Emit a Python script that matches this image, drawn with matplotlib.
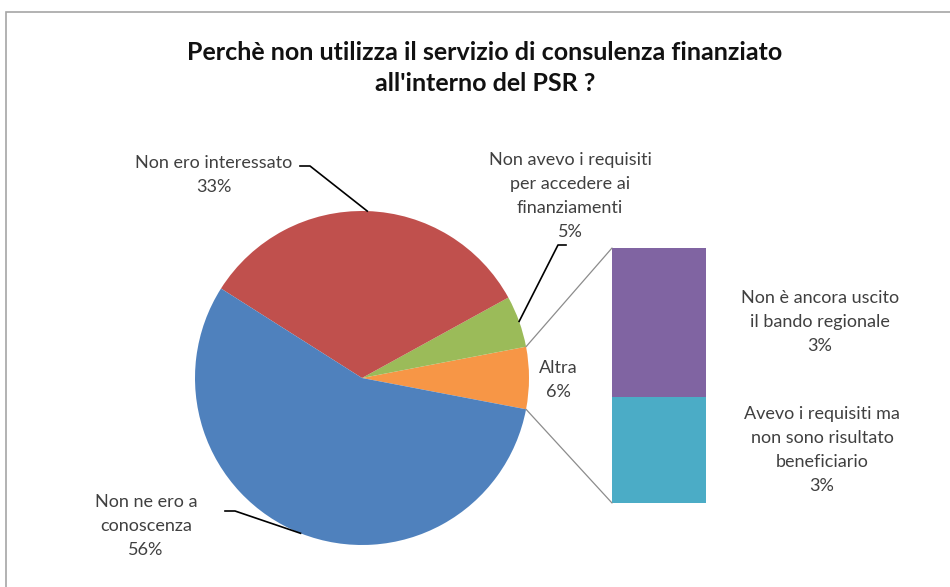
import numpy as np
import matplotlib
matplotlib.use("Agg")
import matplotlib.pyplot as plt
from matplotlib.patches import ConnectionPatch, Rectangle

plt.rcParams['font.family'] = ['Lato', 'DejaVu Sans']

# pie data (counterclockwise starting from "Altra")
pie_labels = ["Altra", "Non avevo i requisiti\nper accedere ai\nfinanziamenti",
              "Non ero interessato", "Non ne ero a\nconoscenza"]
pie_values = [6, 5, 33, 56]
pie_colors = ["#F79646", "#9BBB59", "#C0504D", "#4F81BD"]

# breakdown of "Altra"
bar_labels = ["Avevo i requisiti ma\nnon sono risultato\nbeneficiario",
              "Non è ancora uscito\nil bando regionale"]
bar_values = [2.5, 3.5]
bar_pct = ["3%", "3%"]
bar_colors = ["#4BACC6", "#8064A2"]

title = "Perchè non utilizza il servizio di consulenza finanziato\nall'interno del PSR ?"

W, H = 950, 587
fig = plt.figure(figsize=(W / 100, H / 100), dpi=100)

def fx(px):
    return px / W

def fy(py):
    return 1 - py / H

# border
fig.patches.append(Rectangle((fx(6), fy(600)), 1.1, fy(12) - fy(600), transform=fig.transFigure,
                             fill=False, edgecolor="#A6A6A6", linewidth=1.2))

fig.text(fx(485), fy(68), title, ha="center", va="center", fontsize=18, fontweight="bold",
         linespacing=1.45, color="#111111")

# pie
cx, cy, r = 362, 378, 167
ax = fig.add_axes([fx(cx - r), fy(cy + r), 2 * r / W, 2 * r / H])
start = -pie_values[0] / 100 * 360 / 2
wedges, _ = ax.pie(pie_values, colors=pie_colors, startangle=start, counterclock=True, radius=1)
ax.set_xlim(-1, 1)
ax.set_ylim(-1, 1)
ax.axis("off")

txt_kw = dict(ha="center", va="center", fontsize=13, color="#404040", linespacing=1.6)

# labels with leaders
def mid(w):
    a = np.deg2rad((w.theta1 + w.theta2) / 2)
    return np.cos(a), np.sin(a)

def to_ax(px, py):
    return (px - cx) / r, (cy - py) / r

fig.text(fx(558), fy(380), f"{pie_labels[0]}\n{pie_values[0]}%", **txt_kw)
fig.text(fx(570), fy(196), f"{pie_labels[1]}\n{pie_values[1]}%", **txt_kw)
fig.text(fx(214), fy(175), f"{pie_labels[2]}\n{pie_values[2]}%", **txt_kw)
fig.text(fx(146), fy(526), f"{pie_labels[3]}\n{pie_values[3]}%", **txt_kw)

leaders = {1: [(566, 245), (558, 245)], 2: [(300, 166), (310, 166)], 3: [(225, 511), (235, 511)]}
for i, pts in leaders.items():
    mx, my = mid(wedges[i])
    xs = [to_ax(*p)[0] for p in pts] + [mx]
    ys = [to_ax(*p)[1] for p in pts] + [my]
    ax.plot(xs, ys, color="black", linewidth=1.2, clip_on=False)

# bar of pie
bx0, bx1, by0, by1 = 612, 706, 248, 503
bax = fig.add_axes([fx(bx0), fy(by1), (bx1 - bx0) / W, (by1 - by0) / H])
bottom = 0
for v, c in zip(bar_values, bar_colors):
    bax.bar(0, v, width=1, bottom=bottom, color=c)
    bottom += v
bax.set_xlim(-0.5, 0.5)
bax.set_ylim(0, sum(bar_values))
bax.axis("off")

fig.text(fx(820), fy(322), f"{bar_labels[1]}\n{bar_pct[1]}", **txt_kw)
fig.text(fx(822), fy(450), f"{bar_labels[0]}\n{bar_pct[0]}", **txt_kw)

# connectors from "Altra" wedge to the bar
w0 = wedges[0]
for ang, yb in [(w0.theta2, sum(bar_values)), (w0.theta1, 0)]:
    a = np.deg2rad(ang)
    con = ConnectionPatch(xyA=(np.cos(a), np.sin(a)), coordsA=ax.transData,
                          xyB=(-0.5, yb), coordsB=bax.transData,
                          color="#8C8C8C", linewidth=0.9)
    fig.add_artist(con)

fig.savefig("out.png", dpi=100)
